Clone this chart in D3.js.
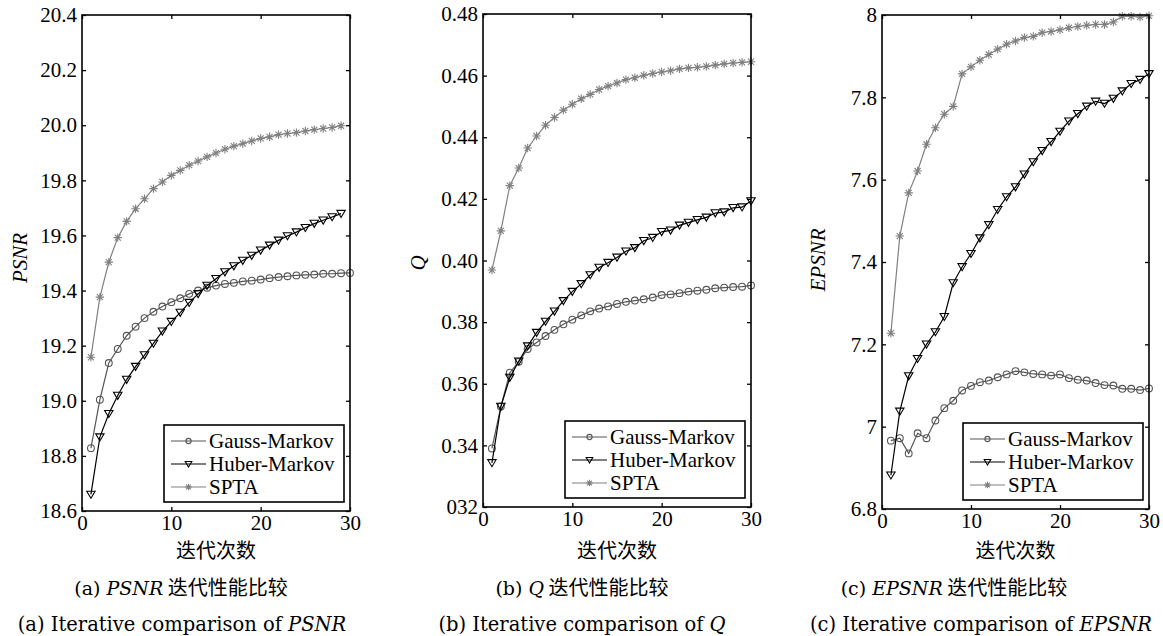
<!DOCTYPE html>
<html>
<head>
<meta charset="utf-8">
<script src="https://cdn.jsdelivr.net/npm/d3@7"></script>
<style>
body { margin: 0; background: #fff; }
svg { display: block; }
.serif { font-family: "Liberation Serif", "Times New Roman", Times, serif; }
</style>
</head>
<body>
<svg width="1163" height="636"></svg>
<script>
// iteration numbers
let iters = [1,2,3,4,5,6,7,8,9,10,11,12,13,14,15,16,17,18,19,20,21,22,23,24,25,26,27,28,29,30];

// (a) PSNR
let psnrGauss = [18.828,19.004,19.137,19.188,19.236,19.269,19.300,19.323,19.342,19.358,19.372,19.388,19.400,19.410,19.418,
                 19.424,19.428,19.433,19.436,19.440,19.445,19.449,19.452,19.455,19.457,19.458,19.461,19.461,19.463,19.464];
let psnrHuber = [18.660,18.868,18.953,19.019,19.077,19.124,19.166,19.208,19.252,19.287,19.320,19.356,19.388,19.418,19.443,
                 19.467,19.489,19.509,19.527,19.546,19.564,19.582,19.598,19.612,19.628,19.643,19.655,19.667,19.679];
let psnrSpta  = [19.158,19.376,19.503,19.592,19.651,19.697,19.733,19.770,19.794,19.818,19.836,19.855,19.870,19.885,19.899,
                 19.913,19.924,19.933,19.943,19.952,19.958,19.966,19.970,19.973,19.979,19.984,19.988,19.992,19.998];

// (b) Q
let qGauss = [0.3390,0.3526,0.3636,0.3671,0.3713,0.3734,0.3755,0.3775,0.3793,0.3808,0.3822,0.3835,0.3844,0.3851,0.3859,
              0.3866,0.3870,0.3874,0.3880,0.3888,0.3890,0.3894,0.3899,0.3902,0.3905,0.3910,0.3912,0.3914,0.3915,0.3919];
let qHuber = [0.3343,0.3526,0.3620,0.3673,0.3722,0.3766,0.3802,0.3835,0.3869,0.3899,0.3924,0.3953,0.3977,0.3993,0.4010,
              0.4030,0.4041,0.4064,0.4074,0.4093,0.4098,0.4114,0.4123,0.4132,0.4140,0.4154,0.4157,0.4171,0.4173,0.4193];
let qSpta  = [0.3969,0.4096,0.4243,0.4300,0.4365,0.4404,0.4439,0.4464,0.4488,0.4507,0.4525,0.4539,0.4555,0.4566,0.4576,
              0.4587,0.4593,0.4601,0.4607,0.4612,0.4616,0.4622,0.4625,0.4627,0.4630,0.4634,0.4638,0.4641,0.4643,0.4645];

// (c) EPSNR
let epsnrGauss = [6.966,6.972,6.935,6.984,6.972,7.015,7.045,7.063,7.088,7.099,7.108,7.112,7.120,7.127,7.135,
                  7.132,7.128,7.127,7.124,7.127,7.118,7.114,7.112,7.106,7.101,7.100,7.092,7.092,7.089,7.093];
let epsnrHuber = [6.882,7.037,7.123,7.165,7.200,7.230,7.267,7.349,7.388,7.420,7.458,7.490,7.527,7.558,7.582,
                  7.613,7.643,7.670,7.692,7.717,7.742,7.760,7.778,7.790,7.785,7.797,7.815,7.833,7.843,7.857];
let epsnrSpta  = [7.227,7.463,7.568,7.621,7.686,7.726,7.759,7.778,7.857,7.874,7.890,7.904,7.917,7.929,7.937,
                  7.945,7.948,7.957,7.960,7.964,7.969,7.972,7.975,7.977,7.977,7.983,7.997,7.997,7.995,7.998];

let seriesNames = ["Gauss-Markov","Huber-Markov","SPTA"];

// ticks
let xTicks = [0,10,20,30];
let psnrTicks = [18.6,18.8,19.0,19.2,19.4,19.6,19.8,20.0,20.2,20.4];
let psnrTickLabels = ["18.6","18.8","19.0","19.2","19.4","19.6","19.8","20.0","20.2","20.4"];
let qTicks = [0.32,0.34,0.36,0.38,0.40,0.42,0.44,0.46,0.48];
let qTickLabels = ["032","0.34","0.36","0.38","0.40","0.42","0.44","0.46","0.48"];
let epsnrTicks = [6.8,7.0,7.2,7.4,7.6,7.8,8.0];
let epsnrTickLabels = ["6.8","7","7.2","7.4","7.6","7.8","8"];

var svg = d3.select("svg");
var serif = "Liberation Serif, Times New Roman, Times, serif";
var capFont = "DejaVu Serif, serif";
var cjk = "Noto Sans CJK SC, sans-serif";
var styles = [
  {color: "#555", marker: "circle"},
  {color: "#000", marker: "triangle"},
  {color: "#808080", marker: "star"}
];

function markerPath(type, s) {
  if (type == "triangle") {
    return `M${-s},${-s*0.78}L${s},${-s*0.78}L0,${s*0.9}Z`;
  }
  if (type == "star") {
    let k = s * 0.72;
    return `M0,${-s}L0,${s}M${-s},0L${s},0M${-k},${-k}L${k},${k}M${-k},${k}L${k},${-k}`;
  }
  return null;
}

function drawMarkers(g, pts, st, size) {
  if (st.marker == "circle") {
    g.selectAll("circle.m").data(pts).enter().append("circle")
      .attr("class","m")
      .attr("cx", d => d[0]).attr("cy", d => d[1])
      .attr("r", size)
      .attr("fill","none").attr("stroke",st.color).attr("stroke-width",1.1);
  } else {
    g.selectAll("path.m").data(pts).enter().append("path")
      .attr("class","m")
      .attr("transform", d => `translate(${d[0]},${d[1]})`)
      .attr("d", markerPath(st.marker, size))
      .attr("fill","none").attr("stroke",st.color).attr("stroke-width",1.1);
  }
}

function drawPanel(p) {
  var w = p.right - p.left, h = p.bottom - p.top;
  var x = d3.scaleLinear().domain([0,30]).range([0,w]);
  var y = d3.scaleLinear().domain([p.ticks[0], p.ticks[p.ticks.length-1]]).range([h,0]);
  var g = svg.append("g").attr("transform",`translate(${p.left},${p.top})`);

  // axes with inward ticks, mirrored on top/right
  g.append("g").attr("transform",`translate(0,${h})`)
    .call(d3.axisBottom(x).tickValues(xTicks).tickSizeInner(-4).tickSizeOuter(0).tickPadding(4));
  g.append("g")
    .call(d3.axisLeft(y).tickValues(p.ticks).tickFormat((d,i) => p.labels[i]).tickSizeInner(-4).tickSizeOuter(0).tickPadding(5));
  g.append("g").call(d3.axisTop(x).tickValues(xTicks).tickSizeInner(-4).tickSizeOuter(0).tickFormat(""));
  g.append("g").attr("transform",`translate(${w},0)`)
    .call(d3.axisRight(y).tickValues(p.ticks).tickSizeInner(-4).tickSizeOuter(0).tickFormat(""));
  g.selectAll(".domain").remove();
  g.selectAll("g").attr("font-family", null);
  g.selectAll(".tick line").attr("stroke","#000").attr("stroke-width",1.3);
  g.selectAll(".tick text").style("font-family",serif).style("font-size","21px").attr("fill","#000");

  // data
  var line = d3.line().x(d => x(d[0])).y(d => y(d[1]));
  p.series.forEach((vals, si) => {
    var st = styles[si];
    var pts = vals.map((v,i) => [iters[i], v]);
    g.append("path").datum(pts).attr("d", line)
      .attr("fill","none").attr("stroke",st.color).attr("stroke-width",1.2);
    drawMarkers(g.append("g"), pts.map(d => [x(d[0]), y(d[1])]), st, st.marker == "circle" ? 3.4 : 4.2);
  });

  // frame
  g.append("rect").attr("width",w).attr("height",h)
    .attr("fill","none").attr("stroke","#000").attr("stroke-width",1.6);

  // legend
  var lw = 180, lh = 77;
  var lx = w - 6 - lw, ly = h - 9 - lh;
  var lg = g.append("g").attr("transform",`translate(${lx},${ly})`);
  lg.append("rect").attr("width",lw).attr("height",lh)
    .attr("fill","#fff").attr("stroke","#000").attr("stroke-width",1.6);
  seriesNames.forEach((name, i) => {
    var st = styles[i];
    var cy = 16 + i * 23;
    lg.append("line").attr("x1",7).attr("x2",42).attr("y1",cy).attr("y2",cy)
      .attr("stroke",st.color).attr("stroke-width",1.2);
    drawMarkers(lg.append("g"), [[24.5, cy]], st, st.marker == "circle" ? 2.6 : 3.3);
    lg.append("text").attr("x",45).attr("y",cy).attr("dy","0.35em")
      .style("font-family",serif).style("font-size","21px").attr("fill","#000").text(name);
  });

  // y label (rotated, italic)
  svg.append("text")
    .attr("transform",`translate(${p.ylabX},${p.ylabY}) rotate(-90)`)
    .attr("text-anchor","middle").attr("dy","0.35em")
    .style("font-family",serif).style("font-style","italic").style("font-size","21px")
    .text(p.ylabel);

  // x label
  svg.append("text").attr("x", p.left + w/2).attr("y", 551).attr("dy","0.35em")
    .attr("text-anchor","middle").style("font-family",cjk).style("font-size","20px")
    .text("迭代次数");

  // captions
  var c1 = svg.append("text").attr("x", p.cap1X).attr("y", 588).attr("dy","0.35em")
    .attr("text-anchor","middle").style("font-family",capFont).style("font-size","19px");
  c1.append("tspan").text(`(${p.letter}) `);
  c1.append("tspan").style("font-style","italic").text(p.ylabel);
  c1.append("tspan").style("font-family",cjk).style("font-size","20px").text(" 迭代性能比较");

  var c2 = svg.append("text").attr("x", p.cap2X).attr("y", 624).attr("dy","0.35em")
    .attr("text-anchor","middle").style("font-family",capFont).style("font-size","19.5px");
  c2.append("tspan").text(`(${p.letter}) Iterative comparison of `);
  c2.append("tspan").style("font-style","italic").text(p.ylabel);
}

drawPanel({letter:"a", left:82, top:15, right:350, bottom:511,
  ticks:psnrTicks, labels:psnrTickLabels, series:[psnrGauss, psnrHuber, psnrSpta],
  ylabel:"PSNR", ylabX:20, ylabY:258, cap1X:181, cap2X:182});
drawPanel({letter:"b", left:483, top:14, right:751, bottom:507,
  ticks:qTicks, labels:qTickLabels, series:[qGauss, qHuber, qSpta],
  ylabel:"Q", ylabX:418, ylabY:263, cap1X:582, cap2X:582});
drawPanel({letter:"c", left:882, top:15, right:1149, bottom:509,
  ticks:epsnrTicks, labels:epsnrTickLabels, series:[epsnrGauss, epsnrHuber, epsnrSpta],
  ylabel:"EPSNR", ylabX:818, ylabY:260, cap1X:954, cap2X:981});
</script>
</body>
</html>
